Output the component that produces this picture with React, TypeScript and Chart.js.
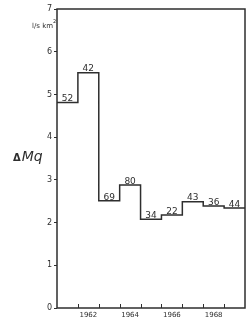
import React, { useEffect, useRef } from "react";
import { Chart, registerables } from "chart.js";

Chart.register(...registerables);

const years = [1961, 1962, 1963, 1964, 1965, 1966, 1967, 1968, 1969];
const deltaMq = [4.81, 5.51, 2.51, 2.88, 2.08, 2.18, 2.49, 2.39, 2.34];
const stationCounts = ["52", "42", "69", "80", "34", "22", "43", "36", "44"];
const xTickLabels = [1962, 1964, 1966, 1968];
const yMin = 0;
const yMax = 7;
const yAxisTitle = "ΔMq";
const unitLabel = "l/s km";
const unitSup = "2";

const INK = "#2e2e2e";

export default function App() {
  const ref = useRef<HTMLCanvasElement | null>(null);

  useEffect(() => {
    if (!ref.current) return;
    const first = years[0] - 0.5;
    const last = years[years.length - 1] + 0.5;
    const points = years.map((yr, i) => ({ x: yr - 0.5, y: deltaMq[i] }));
    points.push({ x: last, y: deltaMq[deltaMq.length - 1] });

    const decor = {
      id: "decor",
      afterDatasetsDraw(chart: any) {
        const { ctx, chartArea, scales } = chart;
        const xs = scales.x;
        const ys = scales.y;
        ctx.save();
        // frame
        ctx.strokeStyle = INK;
        ctx.lineWidth = 1.5;
        ctx.strokeRect(chartArea.left, chartArea.top, chartArea.right - chartArea.left, chartArea.bottom - chartArea.top);
        // inward ticks on x axis at year boundaries
        ctx.lineWidth = 1;
        for (let i = 1; i < years.length; i++) {
          const px = Math.round(xs.getPixelForValue(years[i] - 0.5)) + 0.5;
          ctx.beginPath();
          ctx.moveTo(px, chartArea.bottom);
          ctx.lineTo(px, chartArea.bottom - 4);
          ctx.stroke();
        }
        // value labels
        ctx.fillStyle = INK;
        ctx.font = "9px 'DejaVu Sans'";
        ctx.textAlign = "center";
        ctx.textBaseline = "bottom";
        years.forEach((yr, i) => {
          const px = xs.getPixelForValue(yr);
          const py = ys.getPixelForValue(deltaMq[i]) + 1;
          ctx.fillText(stationCounts[i], px, py);
        });
        // y axis title
        ctx.textAlign = "left";
        ctx.textBaseline = "alphabetic";
        ctx.font = "bold 10px 'DejaVu Sans'";
        const midY = (chartArea.top + chartArea.bottom) / 2 + 2;
        ctx.fillText("Δ", 13, midY);
        const dw = ctx.measureText("Δ").width;
        ctx.font = "italic 14px 'DejaVu Sans'";
        ctx.fillText(yAxisTitle.slice(1), 13 + dw + 1, midY);
        // units
        ctx.font = "7px 'DejaVu Sans'";
        ctx.textAlign = "right";
        const uy = ys.getPixelForValue(6.55);
        ctx.fillText(unitLabel, chartArea.left - 4, uy);
        ctx.font = "5px 'DejaVu Sans'";
        ctx.textAlign = "left";
        ctx.fillText(unitSup, chartArea.left - 4, uy - 5);
        ctx.restore();
      },
    };

    const chart = new Chart(ref.current, {
      type: "line",
      data: {
        datasets: [
          {
            data: points,
            stepped: "before",
            borderColor: INK,
            borderWidth: 1.5,
            pointRadius: 0,
            fill: false,
          },
        ],
      },
      options: {
        animation: false,
        responsive: true,
        maintainAspectRatio: false,
        layout: { padding: { top: 9, right: 1, left: 0, bottom: 0 } },
        plugins: { legend: { display: false }, tooltip: { enabled: false } },
        scales: {
          x: {
            type: "linear",
            min: first,
            max: last,
            border: { display: false },
            grid: { display: false, drawTicks: false, tickLength: 0 },
            afterBuildTicks: (scale: any) => {
              scale.ticks = xTickLabels.map((v) => ({ value: v }));
            },
            afterFit: (scale: any) => {
              scale.height = 13;
            },
            ticks: {
              autoSkip: false,
              maxRotation: 0,
              padding: 3,
              color: INK,
              font: { family: "'DejaVu Sans'", size: 7 },
              callback: (v: any) => String(v),
            },
          },
          y: {
            type: "linear",
            min: yMin,
            max: yMax,
            border: { display: false },
            grid: { drawOnChartArea: false, drawTicks: true, tickLength: 3, color: INK },
            afterFit: (scale: any) => {
              scale.width = 57;
            },
            ticks: {
              stepSize: 1,
              padding: 2,
              color: INK,
              font: { family: "'DejaVu Sans'", size: 8 },
            },
          },
        },
      },
      plugins: [decor],
    });
    return () => chart.destroy();
  }, []);

  return (
    <div style={{ position: "fixed", left: 0, top: 0, width: 246, height: 321, background: "#fff" }}>
      <canvas ref={ref} />
    </div>
  );
}
